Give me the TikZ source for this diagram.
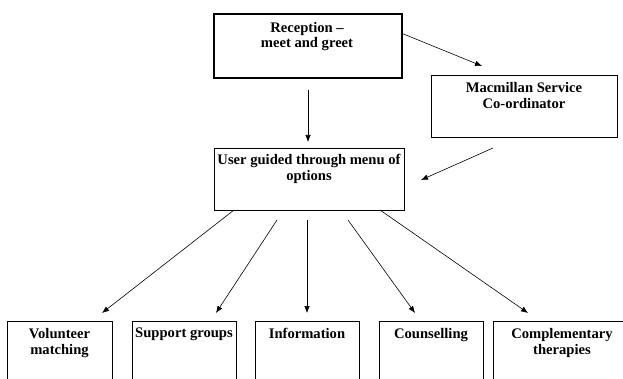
\documentclass[tikz,border=0pt]{standalone}
\usepackage{fontspec}
\setmainfont{Liberation Serif}
\usetikzlibrary{arrows.meta}
\begin{document}
\begin{tikzpicture}[x=1pt,y=-1pt,
  box/.style={draw, line width=1.1pt, inner sep=0pt, anchor=north west},
  lbl/.style={font=\bfseries\fontsize{14.6}{16.5}\selectfont, align=center, anchor=north, inner sep=0pt},
  arr/.style={-{Latex[length=7pt,width=5.5pt]}, line width=0.6pt}]
\useasboundingbox (0,0) rectangle (623,379);
\clip (0,0) rectangle (623,379);
% top boxes
\node[box, line width=1.8pt, minimum width=188pt, minimum height=64pt] (rec) at (213,13) {};
\node[lbl, font=\bfseries\fontsize{14.6}{15.5}\selectfont] (rect) at (307,22) {Reception --\\meet and greet};
\node[box, minimum width=186pt, minimum height=62pt] (mac) at (431,75) {};
\node[lbl] (mact) at (524,82) {Macmillan Service\\Co-ordinator};
\node[box, minimum width=190pt, minimum height=62pt] (usr) at (214,148) {};
\node[lbl] (usrt) at (309,154) {User guided through menu of\\options};
% bottom boxes
\node[box, minimum width=105pt, minimum height=70pt] (vol) at (7,321) {};
\node[lbl] (volt) at (59.5,328) {Volunteer\\matching};
\node[box, minimum width=104pt, minimum height=70pt] (sup) at (132,321) {};
\node[lbl] (supt) at (184,328) {Support groups};
\node[box, minimum width=104pt, minimum height=70pt] (inf) at (255,321) {};
\node[lbl] (inft) at (307,328) {Information};
\node[box, minimum width=104pt, minimum height=70pt] (cou) at (379,321) {};
\node[lbl] (cout) at (431,328) {Counselling};
\node[box, minimum width=138pt, minimum height=70pt] (com) at (493,321) {};
\node[lbl] (comt) at (562,328) {Complementary\\therapies};
% connector end points
\coordinate (a1) at (401,33);   \coordinate (a1e) at (482,66);
\coordinate (a2) at (308,90);   \coordinate (a2e) at (308,142);
\coordinate (a3) at (493,148);  \coordinate (a3e) at (421,180);
\coordinate (b1) at (234,210);  \coordinate (b1e) at (102,313);
\coordinate (b2) at (277,220);  \coordinate (b2e) at (216,313);
\coordinate (b3) at (307,220);  \coordinate (b3e) at (307,313);
\coordinate (b4) at (348,220);  \coordinate (b4e) at (415,313);
\coordinate (b5) at (380,210);  \coordinate (b5e) at (528,313);
\draw[arr] (a1) -- (a1e);
\draw[arr] (a2) -- (a2e);
\draw[arr] (a3) -- (a3e);
\draw[arr] (b1) -- (b1e);
\draw[arr] (b2) -- (b2e);
\draw[arr] (b3) -- (b3e);
\draw[arr] (b4) -- (b4e);
\draw[arr] (b5) -- (b5e);
\end{tikzpicture}
\end{document}
